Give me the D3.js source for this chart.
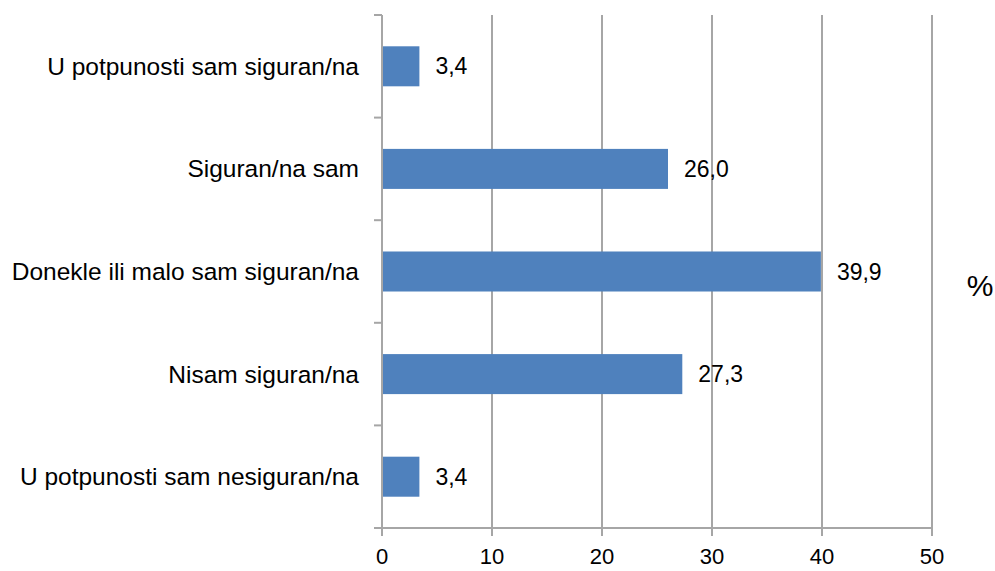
<!DOCTYPE html>
<html>
<head>
<meta charset="utf-8">
<script src="https://cdn.jsdelivr.net/npm/d3@7"></script>
<style>
  body { margin: 0; background: #fff; }
  text { font-family: "Liberation Sans", "DejaVu Sans", sans-serif; fill: #000; }
</style>
</head>
<body>
<div class="vis-bars"></div>
<script>
const categories = [
    'U potpunosti sam siguran/na',
    'Siguran/na sam',
    'Donekle ili malo sam siguran/na',
    'Nisam siguran/na',
    'U potpunosti sam nesiguran/na'
];
const values = [3.4, 26.0, 39.9, 27.3, 3.4];
const xTicks = [0, 10, 20, 30, 40, 50];
const unitLabel = '%';

const width = 995, height = 571;
const margin = { top: 15, right: 63, bottom: 43, left: 382 };
const gridColor = '#a6a6a6';
const barColor = '#4f81bd';

const svg = d3.select('.vis-bars')
    .append('svg')
    .attr('width', width)
    .attr('height', height);

const x = d3.scaleLinear()
    .domain([0, 50])
    .range([margin.left, width - margin.right]);

const y = d3.scaleBand()
    .domain(categories)
    .range([margin.top, height - margin.bottom])
    .paddingInner(0.61)
    .paddingOuter(0.305);

const yBounds = d3.scaleLinear()
    .domain([0, categories.length])
    .range([margin.top, height - margin.bottom]);

// vertical gridlines
svg.append('g')
    .selectAll('line')
    .data(xTicks.slice(1))
    .enter().append('line')
    .attr('x1', d => x(d)).attr('x2', d => x(d))
    .attr('y1', margin.top).attr('y2', height - margin.bottom)
    .attr('stroke', gridColor)
    .attr('stroke-width', 2);

// bars
svg.append('g')
    .selectAll('rect')
    .data(values)
    .enter().append('rect')
    .attr('x', x(0))
    .attr('y', (d, i) => y(categories[i]))
    .attr('width', d => x(d) - x(0))
    .attr('height', y.bandwidth())
    .attr('fill', barColor);

// value labels
svg.append('g')
    .selectAll('text')
    .data(values)
    .enter().append('text')
    .attr('x', d => x(d) + 16)
    .attr('y', (d, i) => y(categories[i]) + y.bandwidth() / 2)
    .attr('dy', '0.35em')
    .style('font-size', '23px')
    .text(d => d.toFixed(1).replace('.', ','));

// left axis: line + ticks at category boundaries
const yAxis = svg.append('g');
yAxis.append('line')
    .attr('x1', x(0)).attr('x2', x(0))
    .attr('y1', margin.top).attr('y2', height - margin.bottom)
    .attr('stroke', gridColor).attr('stroke-width', 2);
yAxis.selectAll('.tick')
    .data(d3.range(categories.length + 1))
    .enter().append('line')
    .attr('x1', x(0) - 8).attr('x2', x(0))
    .attr('y1', d => yBounds(d)).attr('y2', d => yBounds(d))
    .attr('stroke', gridColor).attr('stroke-width', 2);
yAxis.selectAll('text')
    .data(categories)
    .enter().append('text')
    .attr('x', x(0) - 23)
    .attr('y', d => y(d) + y.bandwidth() / 2)
    .attr('dy', '0.35em')
    .attr('text-anchor', 'end')
    .style('font-size', '24.5px')
    .text(d => d);

// bottom axis
const xAxis = svg.append('g');
xAxis.append('line')
    .attr('x1', x(0) - 8).attr('x2', x(50))
    .attr('y1', height - margin.bottom).attr('y2', height - margin.bottom)
    .attr('stroke', gridColor).attr('stroke-width', 2);
xAxis.selectAll('.tick')
    .data(xTicks)
    .enter().append('line')
    .attr('x1', d => x(d)).attr('x2', d => x(d))
    .attr('y1', height - margin.bottom).attr('y2', height - margin.bottom + 8)
    .attr('stroke', gridColor).attr('stroke-width', 2);
xAxis.selectAll('text')
    .data(xTicks)
    .enter().append('text')
    .attr('x', d => x(d))
    .attr('y', 564)
    .attr('text-anchor', 'middle')
    .style('font-size', '22px')
    .text(d => d);

// unit label
svg.append('text')
    .attr('x', 980)
    .attr('y', 285)
    .attr('dy', '0.35em')
    .attr('text-anchor', 'middle')
    .style('font-size', '30px')
    .text(unitLabel);
</script>
</body>
</html>
